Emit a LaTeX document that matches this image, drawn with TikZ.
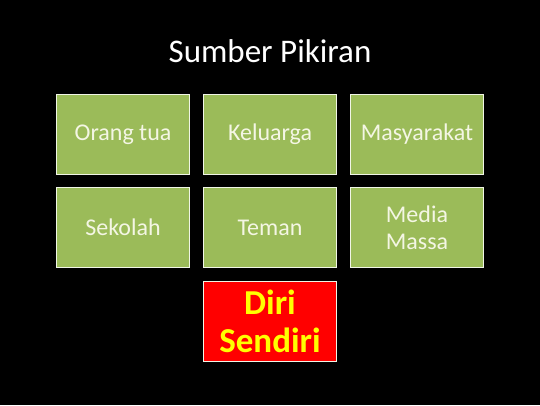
\documentclass[tikz,border=0pt]{standalone}
\usepackage{fontspec}
\setmainfont{Carlito}
\usepackage{xcolor}
\usetikzlibrary{positioning}

\definecolor{boxgreen}{HTML}{9BBB59}
\definecolor{boxtext}{HTML}{F4F6E4}
\definecolor{boxred}{HTML}{FF0000}
\definecolor{boxyellow}{HTML}{FFFF00}

\begin{document}
\begin{tikzpicture}[x=1pt, y=1pt,
    sumber/.style={draw=white!85!boxgreen, line width=1.2pt, fill=boxgreen,
        minimum width=133pt, minimum height=80pt, align=center,
        text=boxtext, font=\fontsize{24}{27}\selectfont},
    diri/.style={sumber, fill=boxred, text=boxyellow,
        font=\fontsize{35}{38}\selectfont\bfseries}]
    \fill[black] (0,0) rectangle (540,405);
    \useasboundingbox (0,0) rectangle (540,405);
    % title
    \node[text=white, font=\fontsize{33}{36}\selectfont] (judul) at (270,354) {Sumber Pikiran};
    % the six sources
    \foreach \x/\y/\name/\n in {123/270.5/ortu/Orang tua, 270/270.5/keluarga/Keluarga,
                                417/270.5/masyarakat/Masyarakat, 123/177.5/sekolah/Sekolah,
                                270/177.5/teman/Teman, 417/177.5/media/Media\\Massa} {
        \node[sumber] (\name) at (\x,\y) {\n};
    }
    \node[diri] (diri) at (270,83.5) {Diri\\Sendiri};
\end{tikzpicture}
\end{document}
